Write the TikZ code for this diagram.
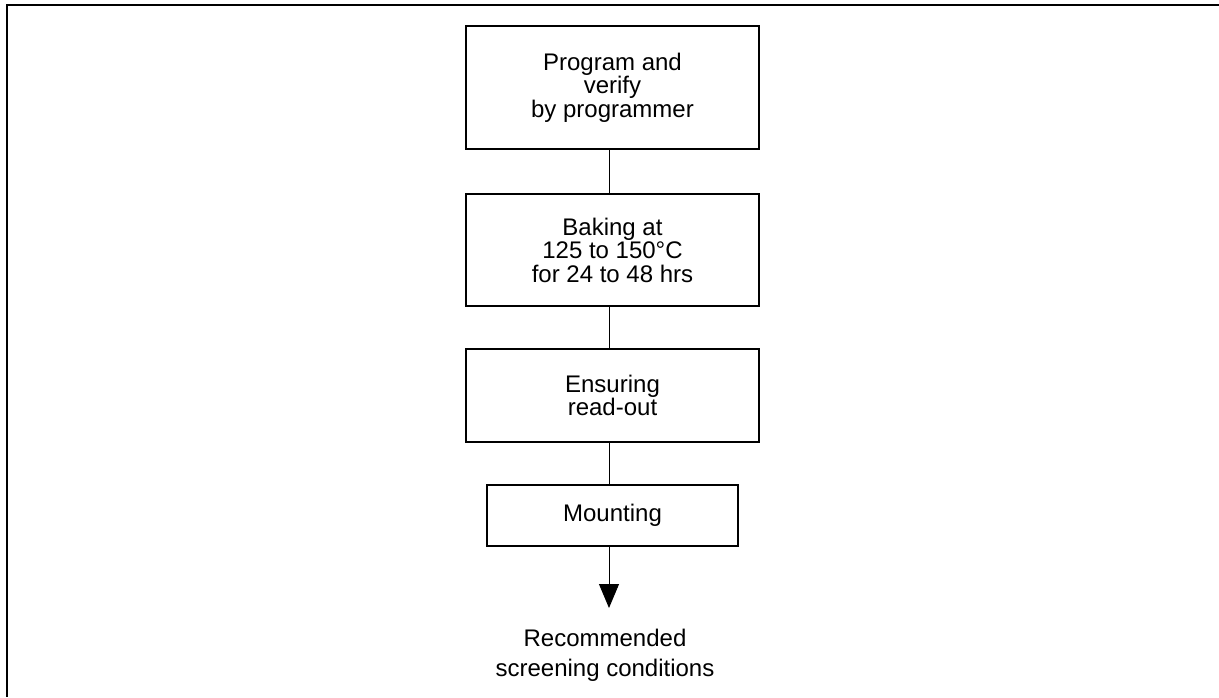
\documentclass[tikz,border=0pt]{standalone}
\usepackage{fontspec}
\setmainfont{Liberation Sans}
\usetikzlibrary{arrows.meta}
\definecolor{inkline}{HTML}{000000}
\tikzset{
  stepbox/.style={
    rectangle,
    draw=inkline,
    line width=1.4pt,
    align=center,
    minimum width=293pt,
    font=\fontsize{24}{23.5}\selectfont
  },
  result/.style={align=center, font=\fontsize{24}{30}\selectfont},
  link/.style={draw=inkline, line width=0.9pt},
  flow/.style={-{Triangle[length=24pt, width=20pt]}, line width=0.9pt, draw=inkline},
  frame/.style={draw=inkline, line width=2pt}
}
\begin{document}
\begin{tikzpicture}[x=1pt, y=-1pt]
\useasboundingbox (0,0) rectangle (1219,697);

% Page frame (only top and left edges show).
\draw[frame] (1219,5) -- (7,5) -- (7,697);

% Process steps.
\node[stepbox, minimum height=123pt] (program) at (612.5,87.5) {Program and\\verify\\by programmer};
\node[stepbox, minimum height=112pt] (baking) at (612.5,250) {Baking at\\125 to 150°C\\for 24 to 48 hrs};
\node[stepbox, minimum height=93pt] (readout) at (612.5,395.5) {Ensuring\\read-out};
\node[stepbox, minimum height=61pt, minimum width=251pt] (mounting) at (612.5,515.5) {Mounting};

% End of flow.
\coordinate (tip) at (609,608);
\node[result] (screening) at (605,655) {Recommended\\screening conditions};

% Links (slightly left of the box centres).
\draw[link] (program.south -| tip) -- (baking.north -| tip);
\draw[link] (baking.south -| tip) -- (readout.north -| tip);
\draw[link] (readout.south -| tip) -- (mounting.north -| tip);
\draw[flow] (mounting.south -| tip) -- (tip);

\end{tikzpicture}
\end{document}
